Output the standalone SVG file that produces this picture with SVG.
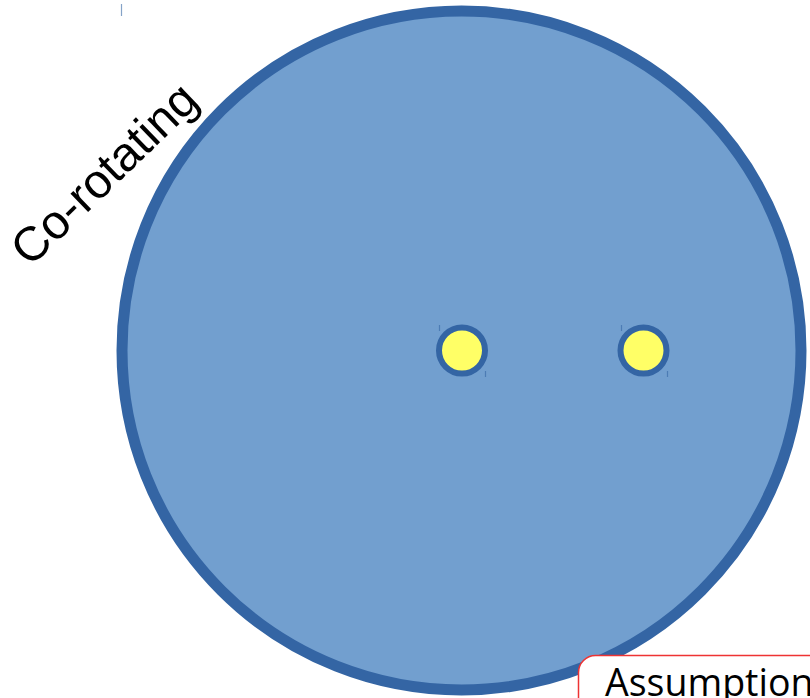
<svg xmlns="http://www.w3.org/2000/svg" width="810" height="698" viewBox="0 0 810 698">
<style>
.tick{stroke:#3465a4;stroke-opacity:0.6;stroke-width:1.2;fill:none}
.star{fill:#ffff66;stroke:#3465a4;stroke-width:6}
</style>
<rect width="810" height="698" fill="#ffffff"/>
<g id="disk">
<circle cx="461.5" cy="350.5" r="339.5" fill="#729fcf" stroke="#3465a4" stroke-width="11"/>
</g>
<g id="star1">
<circle class="star" cx="462" cy="350.5" r="23"/>
</g>
<g id="star2">
<circle class="star" cx="643.5" cy="350.5" r="23"/>
</g>
<g id="connectors">
<line class="tick" x1="121.5" y1="4" x2="121.5" y2="16"/>
<line class="tick" x1="439.5" y1="325" x2="439.5" y2="331"/>
<line class="tick" x1="485.5" y1="371" x2="485.5" y2="377"/>
<line class="tick" x1="621.5" y1="325" x2="621.5" y2="331"/>
<line class="tick" x1="667.5" y1="371" x2="667.5" y2="377"/>
</g>
<g id="label">
<text x="30" y="268" transform="rotate(-44 30 268)" font-family="Liberation Sans, Arial, sans-serif" font-size="48" fill="#000000">Co-rotating</text>
</g>
<g id="assumption">
<rect x="578.5" y="655.5" width="260" height="80" rx="17" ry="17" fill="#ffffff" stroke="#ee3333" stroke-width="1.5"/>
<text x="605" y="696" font-family="Open Sans, Noto Sans, sans-serif" font-size="37.5" fill="#000000">Assumption</text>
</g>
</svg>
